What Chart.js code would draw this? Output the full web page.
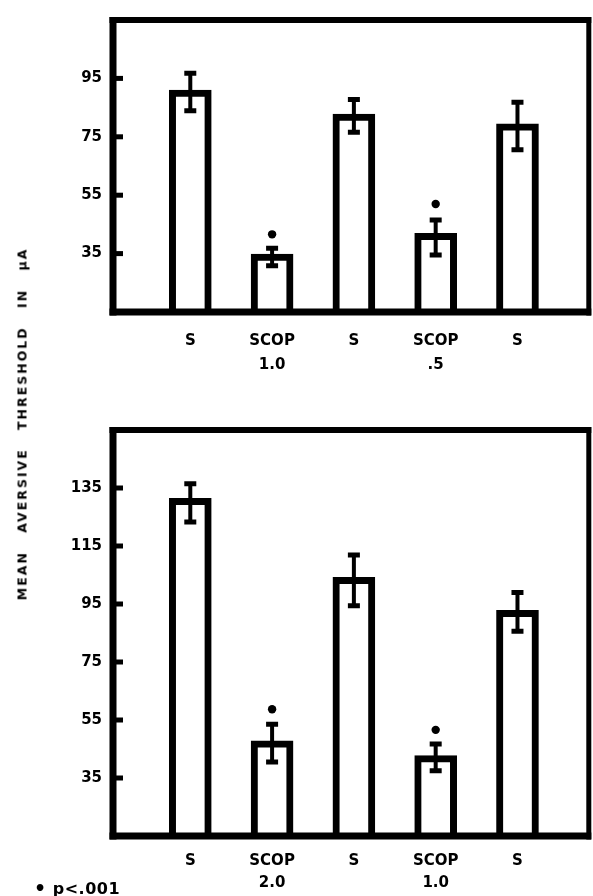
<!DOCTYPE html>
<html><head><meta charset="utf-8">
<script src="https://cdn.jsdelivr.net/npm/chart.js@4"></script>
<style>
html,body{margin:0;padding:0;background:#fff;width:593px;height:896px;overflow:hidden;position:relative;}
#c1{position:absolute;left:0;top:0;}
#c2{position:absolute;left:0;top:400px;}
#ytitle{position:absolute;left:22px;top:424px;transform:translate(-50%,-50%) rotate(-90deg);white-space:pre;font:bold 12.5px "DejaVu Sans";letter-spacing:2px;word-spacing:12px;color:#000;}
#note{position:absolute;left:34px;top:877px;font:bold 16px "DejaVu Sans";white-space:pre;color:#000;letter-spacing:0.5px;}
</style></head><body>
<canvas id="c1" width="593" height="400"></canvas>
<canvas id="c2" width="593" height="496"></canvas>
<div id="ytitle">MEAN AVERSIVE THRESHOLD IN μA</div>
<div id="note"><span style="font-size:19px;vertical-align:-1px">•</span> p&lt;.001</div>
<script>
// ---- data ----
const positions = [0, 1, 2, 3, 4];
const topLabels = [['S'], ['SCOP', '1.0'], ['S'], ['SCOP', '.5'], ['S']];
const topMeans = [91, 34.8, 82.8, 41.9, 79.4];
const topErrHigh = [96.8, 36.8, 87.8, 46.5, 86.8];
const topErrLow = [83.9, 30.8, 76.6, 34.5, 70.6];
const topStarX = [1, 3];
const topStarY = [41.6, 52];
const topTicks = [35, 55, 75, 95];

const botLabels = [['S'], ['SCOP', '2.0'], ['S'], ['SCOP', '1.0'], ['S']];
const botMeans = [131.4, 47.8, 104.2, 42.7, 92.8];
const botErrHigh = [136.5, 53.5, 111.9, 46.7, 99];
const botErrLow = [123.3, 40.5, 94.4, 37.5, 85.6];
const botStarX = [1, 3];
const botStarY = [58.7, 51.6];
const botTicks = [35, 55, 75, 95, 115, 135];

const FONT = {family: 'DejaVu Sans', size: 15, weight: 'bold'};

const framePlugin = {
  id: 'frame',
  afterDatasetsDraw(chart, args, opts) {
    const ctx = chart.ctx, xs = chart.scales.x, ys = chart.scales.y;
    ctx.save();
    ctx.strokeStyle = '#000';
    ctx.lineCap = 'butt';
    opts.high.forEach((h, i) => {
      const x = xs.getPixelForValue(positions[i]);
      const yh = ys.getPixelForValue(h);
      const yl = ys.getPixelForValue(opts.low[i]);
      ctx.lineWidth = 4;
      ctx.beginPath(); ctx.moveTo(x, yh); ctx.lineTo(x, yl); ctx.stroke();
      ctx.lineWidth = 5;
      ctx.beginPath();
      ctx.moveTo(x - 6, yh); ctx.lineTo(x + 6, yh);
      ctx.moveTo(x - 6, yl); ctx.lineTo(x + 6, yl);
      ctx.stroke();
    });
    ctx.restore();
  },
  afterDraw(chart) {
    const ctx = chart.ctx, a = chart.chartArea, ys = chart.scales.y;
    ctx.save();
    ctx.fillStyle = '#000';
    ctx.fillRect(a.left - 3.5, a.top - 3, 7, a.bottom - a.top + 6.5);
    ctx.fillRect(a.left - 3.5, a.bottom - 3.5, a.right - a.left + 6, 7);
    ctx.fillRect(a.left - 3.5, a.top - 3, a.right - a.left + 6, 6);
    ctx.fillRect(a.right - 2.5, a.top - 3, 5, a.bottom - a.top + 6.5);
    ys.ticks.forEach(t => {
      const y = ys.getPixelForValue(t.value);
      ctx.fillRect(a.left, y - 2.5, 10, 5);
    });
    ctx.restore();
  }
};

function makeChart(id, labels, means, hi, lo, sx, sy, ticks, ymin, ymax, padTop, xH, labPad, lineH) {
  new Chart(document.getElementById(id), {
    data: {
      datasets: [
        {
          type: 'bar',
          data: positions.map((p, i) => ({x: p, y: means[i]})),
          backgroundColor: '#fff',
          borderColor: '#000',
          borderWidth: 7,
          borderSkipped: 'bottom',
          barThickness: 42,
          order: 2
        },
        {
          type: 'scatter',
          data: sx.map((p, i) => ({x: p, y: sy[i]})),
          pointRadius: 4.2,
          pointBackgroundColor: '#000',
          pointBorderWidth: 0,
          order: 1
        }
      ]
    },
    options: {
      responsive: false,
      animation: false,
      events: [],
      layout: {padding: {top: padTop, right: 3, left: 0, bottom: 0}},
      plugins: {
        legend: {display: false},
        tooltip: {enabled: false},
        frame: {high: hi, low: lo}
      },
      scales: {
        x: {
          type: 'linear',
          offset: false,
          min: -0.945,
          max: 4.872,
          grid: {display: false, drawTicks: false, offset: false},
          border: {display: false},
          afterBuildTicks: ax => { ax.ticks = positions.map(v => ({value: v})); },
          afterFit: ax => { ax.height = xH; },
          ticks: {
            autoSkip: false, maxRotation: 0, padding: labPad,
            color: '#000',
            font: Object.assign({}, FONT, {lineHeight: lineH + 'px'}),
            callback: v => labels[v]
          }
        },
        y: {
          type: 'linear',
          min: ymin,
          max: ymax,
          grid: {display: false, drawTicks: false},
          border: {display: false},
          afterBuildTicks: ax => { ax.ticks = ticks.map(v => ({value: v})); },
          afterFit: ax => { ax.width = 113; },
          ticks: {padding: 11, color: '#000', font: FONT}
        }
      }
    },
    plugins: [framePlugin]
  });
}

makeChart('c1', topLabels, topMeans, topErrHigh, topErrLow, topStarX, topStarY, topTicks, 15, 115, 16, 88, 17, 24);
makeChart('c2', botLabels, botMeans, botErrHigh, botErrLow, botStarX, botStarY, botTicks, 15, 155, 30, 60, 14, 22);
</script>
</body></html>
